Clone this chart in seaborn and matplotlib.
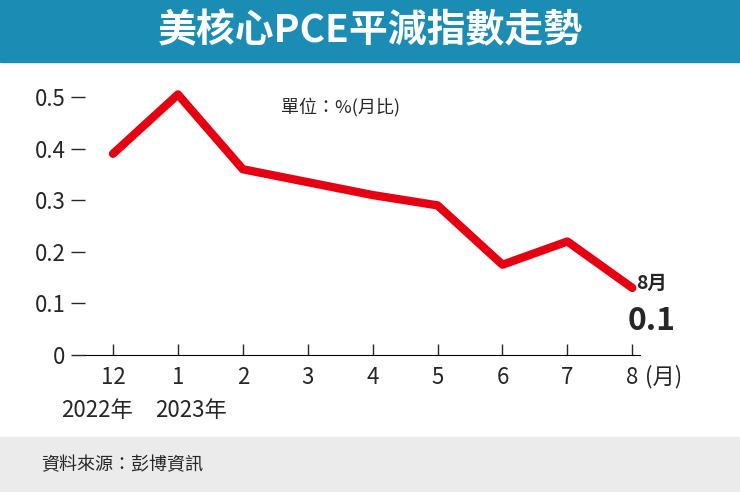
import matplotlib.pyplot as plt
import seaborn as sns
import pandas as pd

months = ['12', '1', '2', '3', '4', '5', '6', '7', '8']
values = [0.39, 0.505, 0.36, 0.335, 0.31, 0.29, 0.175, 0.22, 0.13]
yticks = [0, 0.1, 0.2, 0.3, 0.4, 0.5]
ytick_labels = ['0', '0.1', '0.2', '0.3', '0.4', '0.5']

sns.set_style('white')
plt.rcParams['font.family'] = ['Noto Sans CJK TC', 'DejaVu Sans']

df = pd.DataFrame({'pos': range(len(months)), 'val': values})

fig = plt.figure(figsize=(7.4, 4.92), dpi=100)
# title banner and footer band
fig.patches.append(plt.Rectangle((0, 1 - 62 / 492), 1, 62 / 492, transform=fig.transFigure, color='#1b8db4', zorder=0))
fig.patches.append(plt.Rectangle((0, 0), 1, 55 / 492, transform=fig.transFigure, color='#ebebeb', zorder=0))
fig.text(0.5, 1 - 31 / 492, '美核心PCE平減指數走勢', ha='center', va='center', color='white', fontsize=28, fontweight='bold')
fig.text(0.055, 27 / 492, '資料來源：彭博資訊', ha='left', va='center', fontsize=13)

ax = fig.add_axes([0.115, 1 - 355 / 492, 0.75, (355 - 80) / 492])
ax.set_facecolor('none')
sns.lineplot(data=df, x='pos', y='val', ax=ax, color='#e50012', linewidth=6)
ax.set_xlim(-0.43, 8.12)
ax.set_ylim(0, 0.533)
ax.set_yticks(yticks)
ax.set_yticklabels(ytick_labels, fontsize=16)
ax.set_xticks(range(len(months)))
ax.set_xticklabels(months, fontsize=16)
ax.tick_params(axis='y', direction='out', length=10, width=1, pad=4, left=True)
ax.tick_params(axis='x', direction='in', length=8, width=1, pad=8, bottom=True)
for s in ['top', 'right', 'left']:
    ax.spines[s].set_visible(False)
ax.spines['bottom'].set_color('black')
ax.set_xlabel('')
ax.set_ylabel('')

ax.text(8.2, -0.042, '(月)', fontsize=16, ha='left', va='center', clip_on=False)
ax.text(-0.25, -0.108, '2022年', fontsize=16, ha='center', va='center')
ax.text(1.2, -0.108, '2023年', fontsize=16, ha='center', va='center')
ax.text(3.5, 0.48, '單位：%(月比)', fontsize=13, ha='center', va='center')
ax.text(8.3, 0.12, '8月', fontsize=14, fontweight='bold', ha='center', va='bottom')
ax.text(8.3, 0.065, '0.1', fontsize=23, fontweight='bold', ha='center', va='center', clip_on=False)

fig.savefig('out.png', dpi=100)
